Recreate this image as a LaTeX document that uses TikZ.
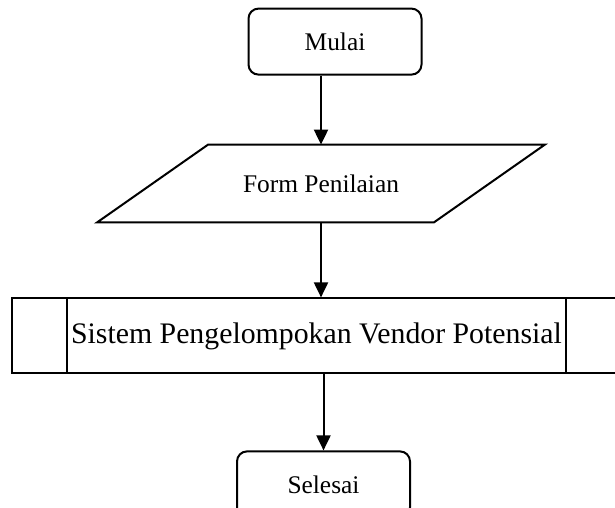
\documentclass[tikz,border=0pt]{standalone}
\usepackage{fontspec}
\setmainfont{Liberation Serif}
\usepackage{tikz}
\usetikzlibrary{arrows.meta, positioning}

\begin{document}
\begin{tikzpicture}[
        terminal/.style={
            rectangle, rounded corners=5pt, draw=black, line width=1pt,
            minimum width=86.5pt, minimum height=33pt,
            font=\fontsize{12.7}{15}\selectfont
        },
        inputBox/.style={
            rectangle, minimum width=112.5pt, minimum height=38.5pt,
            inner sep=0pt, font=\fontsize{12.7}{15}\selectfont
        },
        processBox/.style={
            rectangle, draw=black, line width=1pt,
            minimum width=304.5pt, minimum height=37.5pt,
            font=\fontsize{14.9}{18}\selectfont
        },
        arrow/.style={
            line width=1pt, -{Triangle[length=7.5pt,width=7pt]}, draw=black
        }
    ]
        \clip (0,0) rectangle (307.5pt,-254pt);

        % Flowchart Nodes
        \node (form) [inputBox] at (160.5pt,-91.75pt) {Form Penilaian};
        \node (mulai) [terminal, above=34.5pt of form, xshift=7pt] {Mulai};
        \node (proses) [processBox, below=37.5pt of form, xshift=-2.25pt] {Sistem Pengelompokan Vendor Potensial};
        \node (selesai) [terminal, below=38pt of proses, xshift=3.5pt] {Selesai};

        % Input/output slant
        \draw [line width=1pt] (form.north west) -- ([xshift=55.5pt]form.north east)
            -- (form.south east) -- ([xshift=-55.5pt]form.south west) -- cycle;

        % Predefined process sides
        \draw [line width=1pt] ([xshift=28pt]proses.north west) -- ([xshift=28pt]proses.south west);
        \draw [line width=1pt] ([xshift=-28pt]proses.north east) -- ([xshift=-28pt]proses.south east);

        % Connectors
        \draw [arrow] (mulai.south -| form.north) -- (form.north);
        \draw [arrow] (form.south) -- (form.south |- proses.north);
        \draw [arrow] (proses.south -| selesai.north) -- (selesai.north);
    \end{tikzpicture}
\end{document}
